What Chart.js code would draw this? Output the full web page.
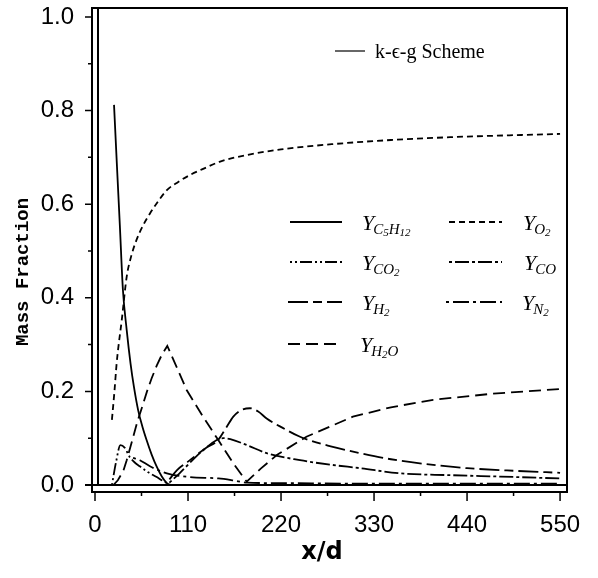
<!DOCTYPE html>
<html>
<head>
<meta charset="utf-8">
<script src="https://cdn.jsdelivr.net/npm/chart.js@4.4.1/dist/chart.umd.min.js"></script>
<style>
  html, body { margin: 0; padding: 0; background: #fff; }
  #wrap { width: 598px; height: 578px; }
</style>
</head>
<body>
<div id="wrap"><canvas id="chartCanvas" width="598" height="578"></canvas></div>
<script>
// Data (x/d vs mass fraction)
var xC5H12 = [22.5, 26, 29.5, 33, 37.5, 42, 46, 51, 56, 61, 67, 73, 79, 85, 90];
var yC5H12 = [0.812, 0.68, 0.55, 0.417, 0.331, 0.26, 0.21, 0.16, 0.125, 0.096, 0.065, 0.039, 0.018, 0.004, 0.0];

var xO2 = [20, 23, 25.6, 28, 31.5, 37.5, 43, 49, 57, 65, 75, 85, 98, 112, 130, 148, 180, 220, 280, 350, 420, 490, 550];
var yO2 = [0.139, 0.2, 0.26, 0.3, 0.35, 0.445, 0.49, 0.523, 0.555, 0.58, 0.607, 0.63, 0.647, 0.662, 0.677, 0.691, 0.705, 0.717, 0.728, 0.737, 0.743, 0.747, 0.75];

var xH2O = [21.7, 27, 33.5, 37.5, 44, 50, 56, 61.5, 67, 73, 79, 85.5, 97, 108.4, 127, 145.8, 163.6, 179.4, 196, 215, 250, 305, 350, 400, 470, 550];
var yH2O = [0.0, 0.01, 0.03, 0.053, 0.095, 0.135, 0.168, 0.2, 0.228, 0.255, 0.278, 0.297, 0.25, 0.203, 0.148, 0.096, 0.046, 0.007, 0.035, 0.064, 0.103, 0.146, 0.166, 0.182, 0.195, 0.205];

var xH2 = [88, 97, 110, 132, 145.5, 155, 163.6, 173, 183.3, 193, 203, 222, 242.5, 280, 313.4, 350, 400, 440, 500, 550];
var yH2 = [0.012, 0.032, 0.05, 0.08, 0.096, 0.122, 0.146, 0.16, 0.164, 0.157, 0.142, 0.122, 0.103, 0.082, 0.068, 0.055, 0.043, 0.036, 0.03, 0.026];

var xCO = [88, 100, 112, 124, 144, 152, 160, 180, 203, 242.5, 280, 313.4, 360, 420, 479, 550];
var yCO = [0.005, 0.025, 0.047, 0.068, 0.096, 0.1, 0.098, 0.085, 0.068, 0.053, 0.043, 0.036, 0.025, 0.021, 0.018, 0.014];

var xCO2 = [20, 25, 30, 35, 41, 47, 53, 63, 73, 80, 86];
var yCO2 = [0.0, 0.05, 0.085, 0.08, 0.06, 0.048, 0.04, 0.027, 0.017, 0.009, 0.003];

var xN2 = [45, 53, 65, 85, 112, 146, 163, 180, 220, 300, 400, 550];
var yN2 = [0.058, 0.053, 0.04, 0.025, 0.017, 0.014, 0.01, 0.005, 0.004, 0.003, 0.003, 0.003];

var xTicks = [0, 110, 220, 330, 440, 550];
var yTicks = [0.0, 0.2, 0.4, 0.6, 0.8, 1.0];

function pts(xs, ys) {
  return xs.map(function (x, i) { return { x: x, y: ys[i] }; });
}

// line styles, also used for the legend samples
var series = [
  { key: 'C5H12', sub: [['C', 0], ['5', 1], ['H', 0], ['12', 1]], data: pts(xC5H12, yC5H12), dash: [], tension: 'monotone' },
  { key: 'O2', sub: [['O', 0], ['2', 1]], data: pts(xO2, yO2), dash: [6, 4], tension: 'monotone' },
  { key: 'CO2', sub: [['CO', 0], ['2', 1]], data: pts(xCO2, yCO2), dash: [2, 3, 2, 3, 12, 3], tension: 'monotone' },
  { key: 'CO', sub: [['CO', 0]], data: pts(xCO, yCO), dash: [3, 3, 14, 3], tension: 'monotone' },
  { key: 'H2', sub: [['H', 0], ['2', 1]], data: pts(xH2, yH2), dash: [20, 5, 9, 5], tension: 'monotone' },
  { key: 'N2', sub: [['N', 0], ['2', 1]], data: pts(xN2, yN2), dash: [3, 4, 16, 4], tension: 'monotone' },
  { key: 'H2O', sub: [['H', 0], ['2', 1], ['O', 0]], data: pts(xH2O, yH2O), dash: [12, 6], tension: 'linear' }
];

var datasets = series.map(function (s) {
  return {
    label: s.key,
    data: s.data,
    borderColor: '#000',
    borderWidth: 1.8,
    borderDash: s.dash,
    pointRadius: 0,
    fill: false,
    cubicInterpolationMode: s.tension === 'monotone' ? 'monotone' : 'default',
    tension: 0
  };
});

function noPad(s) {
  s.paddingTop = 0; s.paddingBottom = 0; s.paddingLeft = 0; s.paddingRight = 0;
}

// frame, tick marks, axis titles and the legend block
var decor = {
  id: 'decor',
  afterDraw: function (chart) {
    var ctx = chart.ctx;
    var a = chart.chartArea;
    var xs = chart.scales.x, ys = chart.scales.y;
    ctx.save();
    ctx.strokeStyle = '#000';
    ctx.lineWidth = 2;
    ctx.setLineDash([]);
    var oL = a.left - 3, iL = a.left + 3, oB = a.bottom + 7;
    ctx.beginPath();
    ctx.rect(oL, a.top, a.right - oL, oB - a.top);
    ctx.moveTo(iL, a.top); ctx.lineTo(iL, a.bottom);
    ctx.moveTo(oL - 7, a.bottom); ctx.lineTo(a.right, a.bottom);
    ctx.stroke();

    ctx.lineWidth = 1.5;
    ctx.beginPath();
    for (var v = 0; v <= 550; v += 55) {
      var px = xs.getPixelForValue(v);
      var len = (v % 110 === 0) ? 9 : 4;
      ctx.moveTo(px, oB); ctx.lineTo(px, oB + len);
    }
    for (var k = 1; k <= 10; k++) {
      var py = ys.getPixelForValue(k / 10);
      var l2 = (k % 2 === 0) ? 7 : 4;
      ctx.moveTo(oL, py); ctx.lineTo(oL - l2, py);
    }
    ctx.stroke();

    // y axis title
    ctx.fillStyle = '#000';
    ctx.save();
    ctx.translate(23, 272);
    ctx.rotate(-Math.PI / 2);
    ctx.font = 'bold 19px "Liberation Mono"';
    ctx.textAlign = 'center';
    ctx.textBaseline = 'middle';
    ctx.fillText('Mass Fraction', 0, 0);
    ctx.restore();

    // x axis title
    ctx.font = 'bold 24px "DejaVu Sans"';
    ctx.textAlign = 'center';
    ctx.textBaseline = 'middle';
    ctx.fillText('x/d', 322, 553);

    // scheme label
    ctx.lineWidth = 1.2;
    ctx.beginPath();
    ctx.moveTo(335, 51); ctx.lineTo(365, 51);
    ctx.stroke();
    ctx.font = '20px "Liberation Serif"';
    ctx.textAlign = 'left';
    ctx.textBaseline = 'alphabetic';
    ctx.fillText('k-\u03F5-g Scheme', 375, 58);

    // legend block, two columns
    var slots = [
      [290, 342, 362, 222], [449, 502, 523, 222],
      [290, 342, 362, 262], [449, 502, 524, 262],
      [288, 342, 362, 302], [446, 502, 522, 302],
      [288, 342, 360, 344]
    ];
    series.forEach(function (s, i) {
      var sl = slots[i];
      ctx.lineWidth = 1.8;
      ctx.setLineDash(s.dash);
      ctx.beginPath();
      ctx.moveTo(sl[0], sl[3]); ctx.lineTo(sl[1], sl[3]);
      ctx.stroke();
      ctx.setLineDash([]);
      var tx = sl[2], base = sl[3] + 8;
      ctx.font = 'italic 22px "Liberation Serif"';
      ctx.fillText('Y', tx, base);
      tx += ctx.measureText('Y').width - 1;
      s.sub.forEach(function (p) {
        ctx.font = p[1] ? 'italic 11px "Liberation Serif"' : 'italic 15px "Liberation Serif"';
        ctx.fillText(p[0], tx, base + (p[1] ? 6 : 4));
        tx += ctx.measureText(p[0]).width;
      });
    });
    ctx.restore();
  }
};

var ctx = document.getElementById('chartCanvas').getContext('2d');
var chart = new Chart(ctx, {
  type: 'line',
  data: { datasets: datasets },
  options: {
    responsive: false,
    animation: false,
    layout: { padding: { left: 0, right: 31, top: 8, bottom: 0 } },
    scales: {
      x: {
        type: 'linear',
        min: 0,
        max: 558.2,
        afterFit: function (s) { s.height = 93; noPad(s); },
        afterBuildTicks: function (s) { s.ticks = xTicks.map(function (v) { return { value: v }; }); },
        grid: { display: false },
        border: { display: false },
        ticks: { color: '#000', padding: 18, maxRotation: 0, font: { family: 'Liberation Sans', size: 24 } }
      },
      y: {
        min: 0,
        max: 1.019,
        afterFit: function (s) { s.width = 95; noPad(s); },
        afterBuildTicks: function (s) { s.ticks = yTicks.map(function (v) { return { value: v }; }); },
        grid: { display: false },
        border: { display: false },
        ticks: {
          color: '#000', padding: 13, font: { family: 'Liberation Sans', size: 24 },
          callback: function (v) { return Number(v).toFixed(1); }
        }
      }
    },
    plugins: { legend: { display: false }, tooltip: { enabled: false } }
  },
  plugins: [decor]
});
</script>
</body>
</html>
